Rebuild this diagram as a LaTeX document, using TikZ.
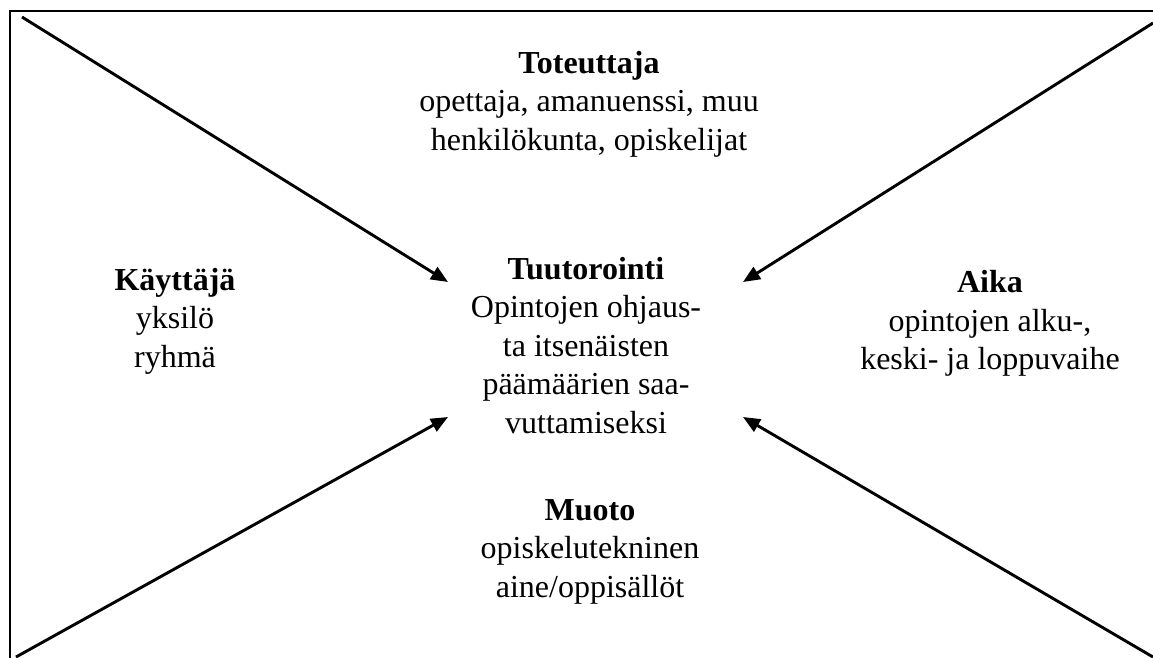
\documentclass[tikz,border=0pt]{standalone}
\usepackage{fontspec}
\setmainfont{Liberation Serif}
\usetikzlibrary{arrows.meta}
\begin{document}
\begin{tikzpicture}[x=1pt,y=-1pt,
  every node/.style={inner sep=0pt,outer sep=0pt},
  block/.style={align=center,font=\fontsize{32}{38.5}\selectfont},
  pointer/.style={line width=2.9pt,-{Triangle[length=17pt,width=14pt]}},
  frame/.style={line width=2pt}]
  \useasboundingbox (0,0) rectangle (1153,657);
  \clip (0,0) rectangle (1153,657);
  % outer frame (runs past the right and bottom edges)
  \draw[frame] (10,11) rectangle (1170,680);

  % text blocks
  \node[block] (doer)   at (589,104) {\textbf{Toteuttaja}\\opettaja, amanuenssi, muu\\henkilökunta, opiskelijat};
  \node[block] (user)   at (175,321) {\textbf{Käyttäjä}\\yksilö\\ryhmä};
  \node[block] (core)   at (586,345.5) {\textbf{Tuutorointi}\\Opintojen ohjaus-\\ta itsenäisten\\päämäärien saa-\\vuttamiseksi};
  \node[block] (time)   at (990,323.5) {\textbf{Aika}\\opintojen alku-,\\keski- ja loppuvaihe};
  \node[block] (form)   at (590,551.5) {\textbf{Muoto}\\opiskelutekninen\\aine/oppisällöt};

  % arrow ends
  \coordinate (nwstart) at (22,17);
  \coordinate (nestart) at (1153,23);
  \coordinate (swstart) at (16,657);
  \coordinate (sestart) at (1153,657);
  \coordinate (nwtip) at (448,282);
  \coordinate (netip) at (743,282);
  \coordinate (swtip) at (448,417);
  \coordinate (setip) at (743,417);

  \draw[pointer] (nwstart) -- (nwtip);
  \draw[pointer] (nestart) -- (netip);
  \draw[pointer] (swstart) -- (swtip);
  \draw[pointer] (sestart) -- (setip);
\end{tikzpicture}
\end{document}
